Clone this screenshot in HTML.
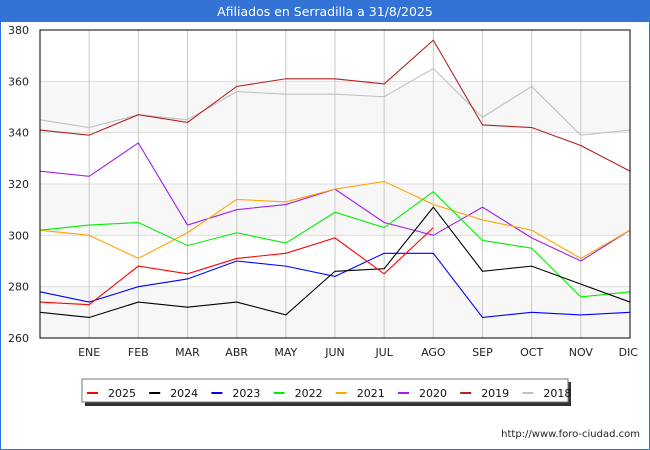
<!DOCTYPE html>
<html><head><meta charset="utf-8"><style>
body{margin:0;background:#fff}
svg{display:block;font-family:"DejaVu Sans","Liberation Sans",sans-serif}
</style></head><body>
<svg id="chart" width="650" height="450" viewBox="0 0 650 450">
<rect x="0.5" y="0.5" width="649" height="449" fill="#fff" stroke="#3373d6"/>
<rect x="0" y="0" width="650" height="22" fill="#3373d6"/>
<text x="325" y="16" text-anchor="middle" fill="#fff" font-size="12.5">Afiliados en Serradilla a 31/8/2025</text>
<g id="bands"></g><g id="grid"></g><g id="lines"></g><g id="axes"></g><g id="legend"></g>
<text x="640" y="437" text-anchor="end" font-size="10" fill="#222">http://www.foro-ciudad.com</text>
</svg>
<script>
const months=["","ENE","FEB","MAR","ABR","MAY","JUN","JUL","AGO","SEP","OCT","NOV","DIC"];
const yTicks=[260,280,300,320,340,360,380];
const seriesNames=["2025","2024","2023","2022","2021","2020","2019","2018"];
const seriesColors=["#ff0000","#000000","#0000ff","#00ee00","#ffa500","#a020f0","#b22222","#c0c0c0"];
const v2025=[274,273,288,285,291,293,299,285,303];
const v2024=[270,268,274,272,274,269,286,287,311,286,288,281,274];
const v2023=[278,274,280,283,290,288,284,293,293,268,270,269,270];
const v2022=[302,304,305,296,301,297,309,303,317,298,295,276,278];
const v2021=[302,300,291,301,314,313,318,321,312,306,302,291,302];
const v2020=[325,323,336,304,310,312,318,305,300,311,299,290,302];
const v2019=[341,339,347,344,358,361,361,359,376,343,342,335,325];
const v2018=[345,342,347,345,356,355,355,354,365,346,358,339,341];
const allSeries=[v2025,v2024,v2023,v2022,v2021,v2020,v2019,v2018];
const L=40,R=630,T=30,B=338;
const xs=i=>L+i*(R-L)/(months.length-1);
const ys=v=>B-(v-260)*(B-T)/(380-260);
const NS="http://www.w3.org/2000/svg";
function mk(p,tag,at){const e=document.createElementNS(NS,tag);for(const k in at)e.setAttribute(k,at[k]);p.appendChild(e);return e;}
const bands=document.getElementById('bands'),grid=document.getElementById('grid'),lines=document.getElementById('lines'),axes=document.getElementById('axes'),legend=document.getElementById('legend');
for(let i=0;i<yTicks.length-1;i++){
  if(i%2===0){const r=mk(bands,'rect',{x:L,y:ys(yTicks[i+1]),width:R-L,height:ys(yTicks[i])-ys(yTicks[i+1]),fill:'#f7f7f7'});
  
  }
}
yTicks.forEach(t=>{
  const g=mk(grid,'line',{x1:L,x2:R,y1:ys(t),y2:ys(t),stroke:'#dddddd'});
  
  
  const tx=mk(axes,'text',{x:L-11,y:ys(t)+4,'text-anchor':'end','font-size':'11',fill:'#222'});tx.textContent=t;
  
  
});
months.forEach((m,i)=>{
  if(i>0){const g=mk(grid,'line',{x1:xs(i),x2:xs(i),y1:T,y2:B,stroke:'#c8c8c8'});
  
  }
  const tx=mk(axes,'text',{x:xs(i),y:B+18,'text-anchor':i===12?'end':'middle','font-size':'11',fill:'#222'});tx.textContent=m;
  if(i===12)tx.setAttribute('x',R+8);
  
  
});
for(let s=allSeries.length-1;s>=0;s--){
  const pts=allSeries[s].map((v,i)=>xs(i)+','+ys(v)).join(' ');
  const pl=mk(lines,'polyline',{points:pts,fill:'none',stroke:seriesColors[s],'stroke-width':'1.1'});
  
  
}
const ax=mk(axes,'rect',{x:L,y:T,width:R-L,height:B-T,fill:'none',stroke:'#000'});


const sh=mk(legend,'rect',{x:85,y:382,width:486,height:24,fill:'#333'});


const lb=mk(legend,'rect',{x:82,y:379,width:486,height:23,fill:'#fff',stroke:'#777'});


seriesNames.forEach((n,i)=>{
  const x=87+i*62.2;
  const sw=mk(legend,'line',{x1:x,x2:x+11,y1:393,y2:393,stroke:seriesColors[i],'stroke-width':'2'});
  
  
  const t=mk(legend,'text',{x:x+21,y:397,'font-size':'11',fill:'#111'});t.textContent=n;
  
  
});
</script>
</body></html>
